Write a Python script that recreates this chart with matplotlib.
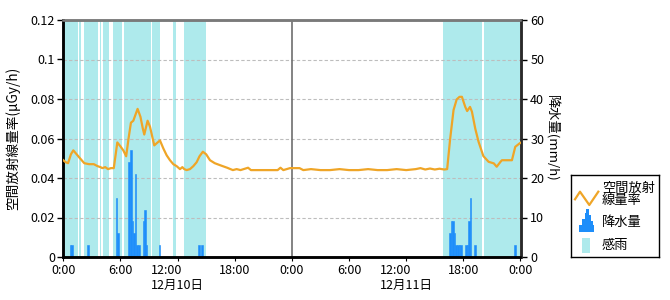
import matplotlib
matplotlib.use('Agg')
import matplotlib.pyplot as plt
from matplotlib.patches import Rectangle, Polygon
from matplotlib.lines import Line2D

plt.rcParams['font.family'] = ['Noto Sans CJK JP', 'DejaVu Sans']

# ---------------- data (hours from 12/10 0:00) ----------------
dose_hours = [0.0, 0.25, 0.5, 0.8, 1.05, 1.4, 1.75, 2.2, 2.7, 3.2, 3.6, 3.9, 4.1, 4.4, 4.7,
              5.0, 5.3, 5.5, 5.67, 6.0, 6.3, 6.6, 6.85, 7.1, 7.35, 7.8, 8.1, 8.35, 8.5, 8.85,
              9.1, 9.55, 9.9, 10.15, 10.5, 10.85, 11.2, 11.55, 11.9, 12.25, 12.5, 12.7, 12.95,
              13.3, 13.65, 14.0, 14.3, 14.65, 15.0, 15.4, 15.9, 16.45, 17.2, 17.8,
              18.2, 18.6, 19.4, 19.7, 20.5, 21.5, 22.5, 22.8, 23.1, 23.8, 24.8, 25.2, 26.0,
              27.0, 28.0, 29.0, 30.0, 31.0, 32.0, 33.0, 34.0, 35.0, 36.0, 37.0, 37.5, 38.0,
              38.5, 39.0, 39.5, 40.0, 40.3, 40.6, 40.97, 41.3, 41.6, 41.85, 42.2, 42.4, 42.7,
              42.9, 43.25, 43.6, 44.1, 44.65, 45.2, 45.5, 45.9, 46.05, 47.1, 47.45, 47.9, 48.0]
dose_values = [0.049, 0.048, 0.0475, 0.052, 0.054, 0.052, 0.050, 0.0475, 0.047, 0.047, 0.046,
               0.0455, 0.045, 0.0455, 0.0445, 0.045, 0.045, 0.052, 0.058, 0.056, 0.054, 0.051,
               0.060, 0.068, 0.069, 0.075, 0.071, 0.065, 0.062, 0.069, 0.066, 0.0565, 0.058,
               0.059, 0.055, 0.0515, 0.049, 0.047, 0.046, 0.0445, 0.0455, 0.0445, 0.044, 0.0445,
               0.046, 0.048, 0.051, 0.0533, 0.052, 0.049, 0.0475, 0.0465, 0.0452, 0.044,
               0.0445, 0.044, 0.0452, 0.044, 0.044, 0.044, 0.044, 0.0452, 0.044, 0.045, 0.045,
               0.044, 0.0445, 0.044, 0.044, 0.0445, 0.044, 0.044, 0.0445, 0.044, 0.044, 0.0445,
               0.044, 0.0445, 0.045, 0.0443, 0.0448, 0.0443, 0.0447, 0.0443, 0.0445, 0.0592,
               0.0744, 0.0798, 0.0811, 0.0811, 0.076, 0.0739, 0.076, 0.0736, 0.065, 0.0583,
               0.0511, 0.0482, 0.0474, 0.0457, 0.0482, 0.049, 0.049, 0.0558, 0.0575, 0.0578]

# precipitation, 10-minute slots
rain_hours = [4/6, 5/6, 15/6, 33/6, 34/6, 41/6, 42/6, 43/6, 44/6, 45/6, 46/6, 47/6,
              50/6, 51/6, 52/6, 60/6, 85/6, 87/6,
              243/6, 244/6, 245/6, 246/6, 247/6, 248/6, 249/6, 250/6, 253/6, 254/6,
              255/6, 256/6, 259/6, 284/6]
rain_values = [3, 3, 3, 15, 6, 24, 27, 9, 6, 21, 3, 3,
               9, 12, 3, 3, 3, 3,
               6, 9, 9, 6, 3, 3, 3, 3, 3, 3,
               9, 15, 3, 3]

# rain sensor (感雨) periods
sense_start = [0.0, 10/6, 13/6, 23/6, 25/6, 31/6, 38/6, 56/6, 69/6, 76/6, 239/6, 265/6]
sense_end   = [9/6, 11/6, 22/6, 24/6, 29/6, 37/6, 55/6, 61/6, 71/6, 90/6, 264/6, 288/6]

xtick_hours = [0, 6, 12, 18, 24, 30, 36, 42, 48]
xtick_labels = ['0:00', '6:00', '12:00\n12月10日', '18:00', '0:00', '6:00',
                '12:00\n12月11日', '18:00', '0:00']
dose_ticks = [0, 0.02, 0.04, 0.06, 0.08, 0.1, 0.12]
dose_tick_labels = ['0', '0.02', '0.04', '0.06', '0.08', '0.1', '0.12']
rain_ticks = [0, 10, 20, 30, 40, 50, 60]

# ---------------- styles ----------------
LINE_C = '#EFA527'
BAR_C = '#1E8EFA'
SENSE_C = '#AEEAEC'
FS = 9

W, H = 670, 300
fig = plt.figure(figsize=(W/100, H/100), dpi=100)
x0, x1, yt, yb = 63.3, 520.5, 20, 257
ax1 = fig.add_axes([x0/W, 1-yb/H, (x1-x0)/W, (yb-yt)/H])
ax2 = ax1.twinx()
ax1.set_zorder(2)
ax2.set_zorder(1)
ax1.patch.set_visible(False)

# rain sensor bands
for s, e in zip(sense_start, sense_end):
    ax2.axvspan(s, e, color=SENSE_C, lw=0, zorder=0.2)

# grid on ax2
ax2.set_axisbelow(True)
ax2.set_xticks(xtick_hours)
ax2.grid(axis='x', color='#C8C8C8', lw=1, ls='-')
ax2.grid(axis='y', color='#BDBDBD', lw=0.8, ls=(0, (3, 2)))
ax2.axvline(24, color='#6E6E6E', lw=1.2, zorder=0.6)

# precipitation bars
ax2.bar(rain_hours, rain_values, width=1/6, align='edge', color=BAR_C,
        edgecolor=BAR_C, lw=0.4, zorder=2)

# dose-rate line
ax1.plot(dose_hours, dose_values, color=LINE_C, lw=1.6, zorder=3, solid_joinstyle='round')

ax1.set_xlim(0, 48)
ax1.set_ylim(0, 0.12)
ax2.set_ylim(0, 60)

ax1.set_xticks(xtick_hours)
ax1.set_xticklabels(xtick_labels, fontsize=FS)
for lbl in ax1.get_xticklabels():
    lbl.set_multialignment('left')
ax1.set_yticks(dose_ticks)
ax1.set_yticklabels(dose_tick_labels, fontsize=FS)
ax2.set_yticks(rain_ticks)
ax2.set_yticklabels([str(v) for v in rain_ticks], fontsize=FS)

ax1.tick_params(axis='x', length=3, pad=2, color='black')
ax1.tick_params(axis='y', length=4, pad=2, width=1)
ax2.tick_params(axis='y', length=4, pad=3, width=1)
ax2.tick_params(axis='x', length=0, labelbottom=False)

for ax in (ax1, ax2):
    ax.spines['left'].set_color('black')
    ax.spines['left'].set_linewidth(1.8)
    ax.spines['bottom'].set_color('black')
    ax.spines['bottom'].set_linewidth(1.8)
    ax.spines['top'].set_color('#7A7A7A')
    ax.spines['top'].set_linewidth(1.8)
    ax.spines['right'].set_color('#2A2A2A')
    ax.spines['right'].set_linewidth(1.8)

ax1.set_ylabel('空間放射線量率(μGy/h)', fontsize=9.8)
ax1.yaxis.set_label_coords((20 - x0)/(x1 - x0), 0.5)
ax2.set_ylabel('降水量(mm/h)', fontsize=9.5, rotation=270, va='center')
ax2.yaxis.set_label_coords((551 - x0)/(x1 - x0), 0.5)

# ---------------- legend ----------------
lx0, ly0, lw_, lh_ = 571, 175, 88, 82
lax = fig.add_axes([lx0/W, 1-(ly0+lh_)/H, lw_/W, lh_/H])
lax.set_xlim(0, lw_)
lax.set_ylim(lh_, 0)
lax.set_xticks([])
lax.set_yticks([])
for sp in lax.spines.values():
    sp.set_color('black')
    sp.set_linewidth(1.0)
lax.add_line(Line2D([4, 9, 18.3, 27.3], [24.3, 16.7, 30, 16.7], color=LINE_C, lw=1.6))
lax.add_patch(Polygon([(8, 57), (8, 50), (11, 50), (11, 44), (13.5, 44), (13.5, 38),
                       (15.3, 38), (15.3, 34), (17.5, 34), (17.5, 40), (19.5, 40),
                       (19.5, 46), (21.5, 46), (21.5, 50), (23, 50), (23, 57)],
                      closed=True, color=BAR_C, lw=0))
lax.add_patch(Rectangle((10.7, 63.3), 8.3, 15, color=SENSE_C, lw=0))
lax.text(31, 19.5, '空間放射\n線量率', fontsize=9.5, va='center', ha='left', linespacing=0.92)
lax.text(31, 47.5, '降水量', fontsize=9.5, va='center', ha='left')
lax.text(31, 70.5, '感雨', fontsize=9.5, va='center', ha='left')

fig.savefig('out.png', dpi=100, facecolor='white')
